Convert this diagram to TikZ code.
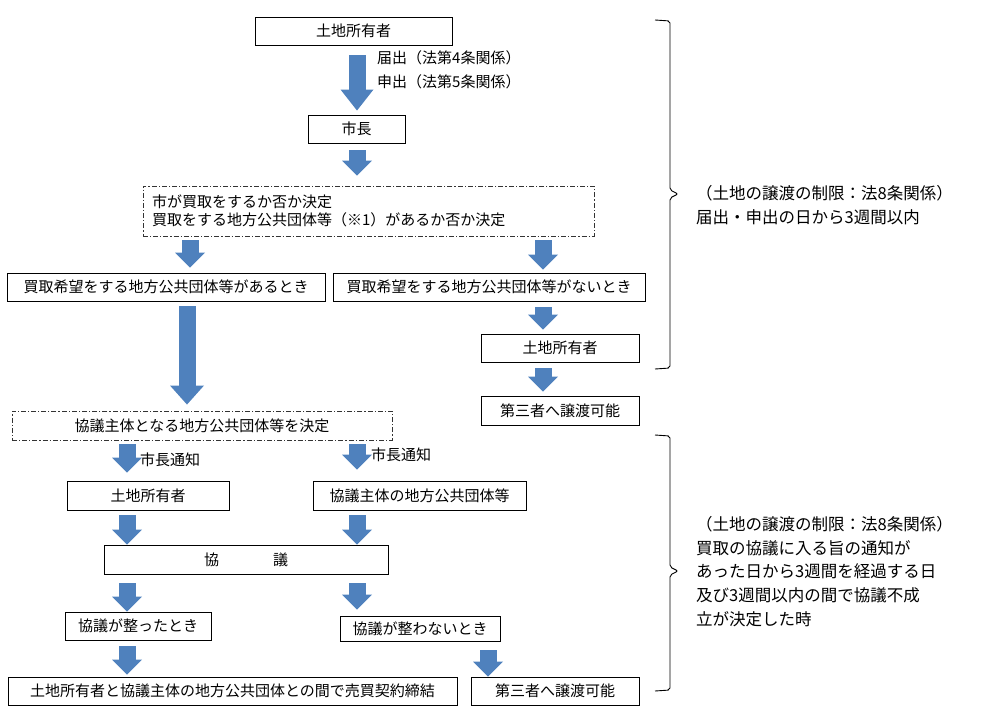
\documentclass[tikz,border=0pt]{standalone}
\usepackage{fontspec}
\setmainfont{Noto Sans CJK JP}
\usetikzlibrary{arrows.meta}
\definecolor{arrowblue}{RGB}{79,129,189}

\begin{document}
\begin{tikzpicture}[x=1pt, y=-1pt,
    box/.style={draw, line width=0.9pt, fill=white, inner sep=0pt, minimum height=28pt, font=\fontsize{15}{18}\selectfont},
    dashbox/.style={box, draw=black!80, dash pattern=on 5pt off 2pt on 1.2pt off 2pt},
    lbl/.style={anchor=west, inner sep=0pt, font=\fontsize{15}{18}\selectfont},
    note/.style={anchor=west, inner sep=0pt, align=left, font=\fontsize{16.5}{23.8}\selectfont},
    blockarrow/.style={draw=arrowblue, line width=17pt, -{Triangle[width=30pt,length=15pt,line width=0pt]}},
    bigarrow/.style={blockarrow, -{Triangle[width=34pt,length=19pt,line width=0pt]}},
    brace/.style={line width=0.9pt, rounded corners=2pt}]
    \useasboundingbox (0,0) rectangle (985,719);

    % top part
    \node[box, minimum width=197pt] (own1) at (353.5,31) {土地所有者};
    \node[box, minimum width=97pt] (mayor) at (356.5,129) {市長};
    \node[lbl] (notice4) at (377,58) {届出（法第4条関係）};
    \node[lbl] (notice5) at (377,82) {申出（法第5条関係）};
    \node[dashbox, minimum width=451pt, minimum height=50pt, text width=433pt, align=left, inner xsep=9pt] (decide) at (368.5,211) {市が買取をするか否か決定\\買取をする地方公共団体等（※1）があるか否か決定};
    \node[box, minimum width=318pt] (yes) at (166,287) {買取希望をする地方公共団体等があるとき};
    \node[box, minimum width=312pt] (no) at (489,287) {買取希望をする地方公共団体等がないとき};
    \node[box, minimum width=158pt] (own2) at (560,348) {土地所有者};
    \node[box, minimum width=158pt, minimum height=29pt] (third1) at (560,410.5) {第三者へ譲渡可能};

    % lower part
    \node[dashbox, minimum width=380pt, minimum height=29pt] (decide2) at (202,425.5) {協議主体となる地方公共団体等を決定};
    \node[lbl] (tell1) at (140,460) {市長通知};
    \node[lbl] (tell2) at (371,455) {市長通知};
    \node[box, minimum width=162pt, minimum height=29pt] (own3) at (148,495.5) {土地所有者};
    \node[box, minimum width=213pt, minimum height=29pt] (body) at (419.5,495.5) {協議主体の地方公共団体等};
    \node[box, minimum width=284pt, minimum height=29pt] (talk) at (246,559.5) {協\hspace{54pt}議};
    \node[box, minimum width=146pt] (agreed) at (138,626) {協議が整ったとき};
    \node[box, minimum width=160pt, minimum height=25pt] (failed) at (420,628.5) {協議が整わないとき};
    \node[box, minimum width=449pt] (contract) at (232.5,691) {土地所有者と協議主体の地方公共団体との間で売買契約締結};
    \node[box, minimum width=168pt] (third2) at (555,691) {第三者へ譲渡可能};

    % arrows
    \draw[blockarrow, -{Triangle[width=33pt,length=21pt,line width=0pt]}, shorten <=10pt, shorten >=4pt] ([xshift=3.5pt]own1.south) -- ([xshift=0.5pt]mayor.north);
    \draw[blockarrow, shorten <=7pt, shorten >=10pt] ([xshift=0.5pt]mayor.south) -- ([xshift=-11.5pt]decide.north);
    \draw[blockarrow, shorten <=4pt, shorten >=5pt] ([xshift=-178.5pt]decide.south) -- ([xshift=24pt]yes.north);
    \draw[blockarrow, shorten <=4pt, shorten >=3pt] ([xshift=174.5pt]decide.south) -- ([xshift=54pt]no.north);
    \draw[bigarrow, shorten <=5pt, shorten >=6pt] ([xshift=21pt]yes.south) -- ([xshift=-15pt]decide2.north);
    \draw[blockarrow, shorten <=6pt, shorten >=4pt] ([xshift=54pt]no.south) -- ([xshift=-17pt]own2.north);
    \draw[blockarrow, shorten <=6pt, shorten >=4pt] ([xshift=-17pt]own2.south) -- ([xshift=-17pt]third1.north);
    \draw[blockarrow, shorten <=4pt, shorten >=8pt] ([xshift=-75pt]decide2.south) -- ([xshift=-21pt]own3.north);
    \draw[blockarrow, shorten <=4pt, shorten >=11pt] ([xshift=155pt]decide2.south) -- ([xshift=-62.5pt]body.north);
    \draw[blockarrow, shorten <=5pt] ([xshift=-21pt]own3.south) -- ([xshift=-119pt]talk.north);
    \draw[blockarrow, shorten <=5pt] ([xshift=-62.5pt]body.south) -- ([xshift=111pt]talk.north);
    \draw[blockarrow, shorten <=9pt] ([xshift=-119pt]talk.south) -- ([xshift=-11pt]agreed.north);
    \draw[blockarrow, shorten <=9pt, shorten >=6pt] ([xshift=111pt]talk.south) -- ([xshift=-63pt]failed.north);
    \draw[blockarrow, shorten <=6pt, shorten >=2pt] ([xshift=-11pt]agreed.south) -- ([xshift=-105.5pt]contract.north);
    \draw[blockarrow, shorten <=9pt] ([xshift=68pt]failed.south) -- ([xshift=-67pt]third2.north);

    % braces and notes
    \draw[brace] (655,20) -- (670,21) -- (670,190) -- (678,194) -- (670,198) -- (670,368) -- (655,369);
    \node[note] (rule1) at (696,205) {（土地の譲渡の制限：法8条関係）\\届出・申出の日から3週間以内};
    \draw[brace] (655,435) -- (670,436) -- (670,567) -- (678,571) -- (670,575) -- (670,690) -- (655,691);
    \node[note] (rule2) at (696,571.5) {（土地の譲渡の制限：法8条関係）\\買取の協議に入る旨の通知が\\あった日から3週間を経過する日\\及び3週間以内の間で協議不成\\立が決定した時};
\end{tikzpicture}
\end{document}
